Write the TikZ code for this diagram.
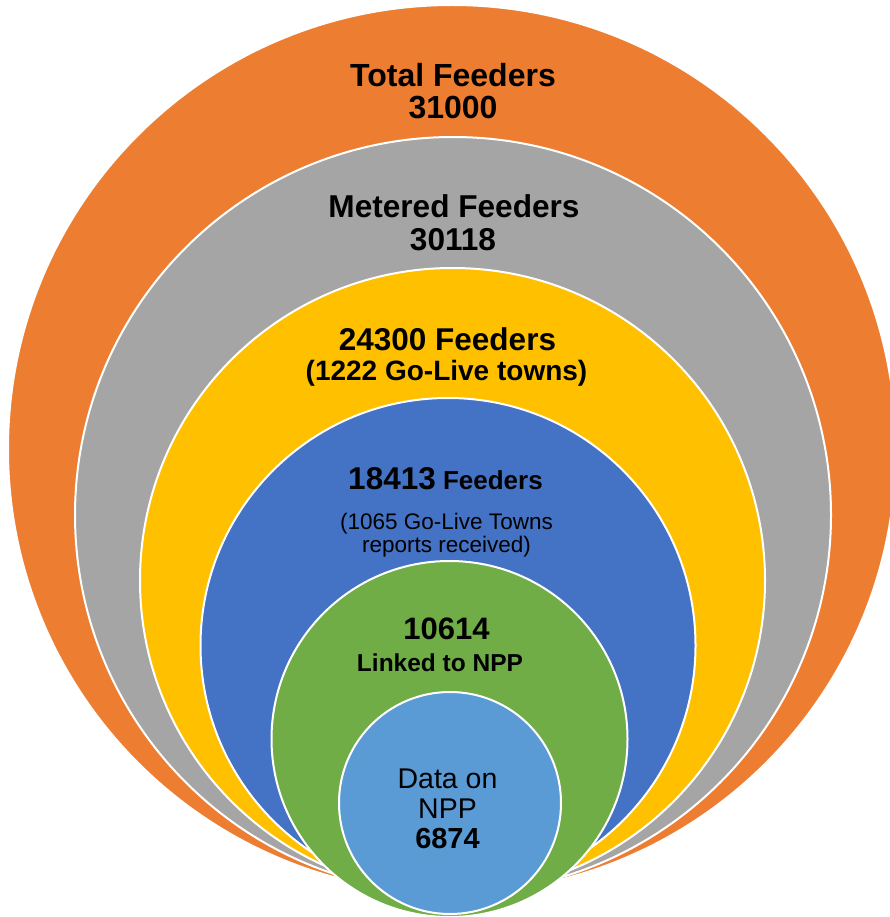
\documentclass[tikz,border=0pt]{standalone}
\usepackage{fontspec}
\setmainfont{Liberation Sans}
\definecolor{cOrange}{HTML}{ED7D31}
\definecolor{cGray}{HTML}{A5A5A5}
\definecolor{cYellow}{HTML}{FFC000}
\definecolor{cBlue}{HTML}{4472C4}
\definecolor{cGreen}{HTML}{70AD47}
\definecolor{cLBlue}{HTML}{5B9BD5}
\tikzset{
  ring/.style={circle, draw=white, line width=2pt, inner sep=0pt, outer sep=0pt},
  lbl/.style={anchor=base, inner sep=0pt, text=black, align=center},
}
\newcommand{\fsz}[1]{\fontsize{#1}{#1}\selectfont}
\begin{document}
\begin{tikzpicture}[x=1pt,y=-1pt]
\useasboundingbox (0,0) rectangle (890,917);
\clip (0,0) rectangle (890,917);
\node[ring, fill=cOrange, minimum size=888pt] (c1) at (452,449) {};
\node[ring, fill=cGray, minimum size=756pt] (c2) at (453,515) {};
\node[ring, fill=cYellow, minimum size=625pt] (c3) at (452.5,580.5) {};
\node[ring, fill=cBlue, minimum size=495pt] (c4) at (448,645.5) {};
\node[ring, fill=cGreen, minimum size=356pt] (c5) at (449.5,739) {};
\node[ring, fill=cLBlue, minimum size=222pt] (c6) at (450,803) {};
% labels
\node[lbl, font=\fsz{32}\bfseries] (t1a) at (453,87) {Total Feeders};
\node[lbl, font=\fsz{32}\bfseries] (t1b) at (453,119) {31000};
\node[lbl, font=\fsz{31.6}\bfseries] (t2a) at (454,218) {Metered Feeders};
\node[lbl, font=\fsz{31.6}\bfseries] (t2b) at (453,250) {30118};
\node[lbl, font=\fsz{31.5}\bfseries] (t3a) at (447.5,350) {24300 Feeders};
\node[lbl, font=\fsz{28}\bfseries] (t3b) at (446.5,380) {(1222 Go-Live towns)};
\node[lbl] (t4a) at (445.5,489) {{\fsz{31.5}\bfseries 18413}{\fsz{26}\bfseries\ Feeders}};
\node[lbl, font=\fsz{22.5}] (t4b) at (446.5,529) {(1065 Go-Live Towns};
\node[lbl, font=\fsz{22.5}] (t4c) at (446.5,552) {reports received)};
\node[lbl, font=\fsz{31}\bfseries] (t5a) at (446.5,639) {10614};
\node[lbl, font=\fsz{24.5}\bfseries] (t5b) at (440,671) {Linked to NPP};
\node[lbl, font=\fsz{28.5}] (t6a) at (447.5,788) {Data on};
\node[lbl, font=\fsz{28.5}] (t6b) at (447.5,818) {NPP};
\node[lbl, font=\fsz{29}\bfseries] (t6c) at (447.5,848) {6874};
\end{tikzpicture}
\end{document}
